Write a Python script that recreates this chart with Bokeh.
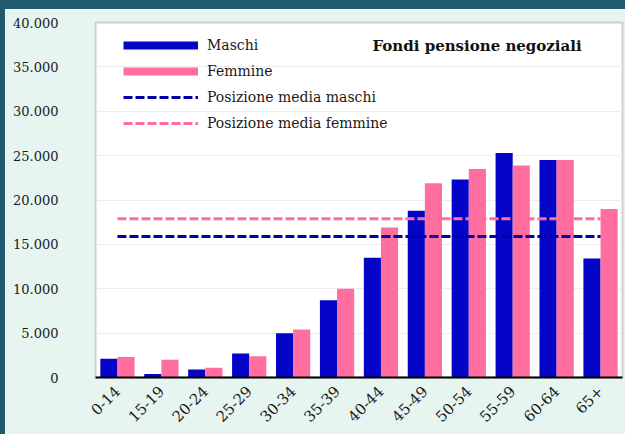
import math
from bokeh.plotting import figure
from bokeh.models import (FactorRange, Legend, LegendItem, Label, FixedTicker,
                          CustomJSTickFormatter, ColumnDataSource, CDSView, IndexFilter)
from bokeh.transform import dodge
from bokeh.embed import file_html
from bokeh.resources import INLINE

# ---- data ----
categories = ["0-14", "15-19", "20-24", "25-29", "30-34", "35-39",
              "40-44", "45-49", "50-54", "55-59", "60-64", "65+"]
maschi = [2100, 400, 900, 2700, 5000, 8700, 13500, 18800, 22300, 25300, 24500, 13400]
femmine = [2300, 2000, 1100, 2400, 5400, 10000, 16900, 21900, 23500, 23900, 24500, 19000]
media_maschi = 15900
media_femmine = 17900
y_ticks = [0, 5000, 10000, 15000, 20000, 25000, 30000, 35000, 40000]
title_text = "Fondi pensione negoziali"
legend_labels = ["Maschi", "Femmine", "Posizione media maschi", "Posizione media femmine"]

BLUE = "#0505c8"
PINK = "#ff6e9f"
FONT = "DejaVu Serif"
TEAL = "#215a6e"

source = ColumnDataSource(dict(
    cat=categories, maschi=maschi, femmine=femmine,
    mm=[media_maschi] * len(categories), mf=[media_femmine] * len(categories)))

TOP, LEFT = 9, 5
W, H = 630 - LEFT, 443 - TOP
FL, FR, FT, FB = 95 - LEFT, 8, 22 - TOP, 66
frame_h = H - FT - FB

p = figure(width=W, height=H, output_backend="svg", toolbar_location=None,
           x_range=FactorRange(*categories, range_padding=0),
           y_range=(0, 40000),
           min_border_left=FL, min_border_right=FR, min_border_top=FT, min_border_bottom=FB,
           styles={"border-top": f"{TOP}px solid {TEAL}",
                   "border-left": f"{LEFT}px solid {TEAL}",
                   "overflow": "hidden"})
p.margin = 0

p.background_fill_color = "white"
p.border_fill_color = "#e6f5f0"
p.outline_line_color = "#cfcfcf"
p.outline_line_width = 2

p.vbar(x=dodge("cat", -0.195, range=p.x_range), top="maschi", width=0.39,
       source=source, fill_color=BLUE, line_color=None)
p.vbar(x=dodge("cat", 0.195, range=p.x_range), top="femmine", width=0.39,
       source=source, fill_color=PINK, line_color=None)

l_mf = p.line(x="cat", y="mf", source=source, line_color=PINK, line_width=3, line_dash="9 3")
l_mm = p.line(x="cat", y="mm", source=source, line_color="#0000a8", line_width=3, line_dash="9 3")

# legend swatches: thick lines that show a single row only (a one-point line draws nothing)
one = CDSView(filter=IndexFilter(indices=[0]))
sw_m = p.line(x="cat", y="maschi", source=source, view=one, line_color=BLUE, line_width=8)
sw_f = p.line(x="cat", y="femmine", source=source, view=one, line_color=PINK, line_width=8)

leg_h = 4 * 20 + 3 * 6
legend = Legend(items=[
    LegendItem(label=legend_labels[0], renderers=[sw_m]),
    LegendItem(label=legend_labels[1], renderers=[sw_f]),
    LegendItem(label=legend_labels[2], renderers=[l_mm]),
    LegendItem(label=legend_labels[3], renderers=[l_mf]),
], location=(28, frame_h - 13 - leg_h), padding=0, spacing=6, glyph_width=75, glyph_height=20,
   label_height=20, label_standoff=9, border_line_color=None,
   background_fill_alpha=0, label_text_font=FONT, label_text_font_size="14px",
   label_text_color="#1a1a1a")
p.add_layout(legend, "center")

p.add_layout(Label(x=277, y=frame_h - 23, x_units="screen", y_units="screen", text=title_text,
                   text_font=FONT, text_font_style="bold", text_font_size="15px",
                   text_baseline="middle", text_color="#111111"))

# axes
p.yaxis.ticker = FixedTicker(ticks=y_ticks)
p.yaxis.formatter = CustomJSTickFormatter(
    code="return Math.round(tick).toString().replace(/\\B(?=(\\d{3})+(?!\\d))/g, '.');")
p.yaxis.axis_line_color = None
p.yaxis.major_tick_line_color = None
p.yaxis.minor_tick_line_color = None
p.yaxis.major_label_standoff = 31
p.yaxis.major_label_text_font = FONT
p.yaxis.major_label_text_font_size = "13px"
p.yaxis.major_label_text_color = "#1a1a1a"

p.xaxis.axis_line_color = "black"
p.xaxis.axis_line_width = 2
p.xaxis.major_tick_line_color = None
p.xaxis.major_label_orientation = math.pi / 4
p.xaxis.major_label_standoff = 5
p.xaxis.major_label_text_font = FONT
p.xaxis.major_label_text_font_size = "15px"
p.xaxis.major_label_text_color = "#1a1a1a"

p.xgrid.grid_line_color = None
p.ygrid.grid_line_color = "#ececec"
p.ygrid.grid_line_width = 1

open("out.html", "w").write(file_html(p, INLINE))
